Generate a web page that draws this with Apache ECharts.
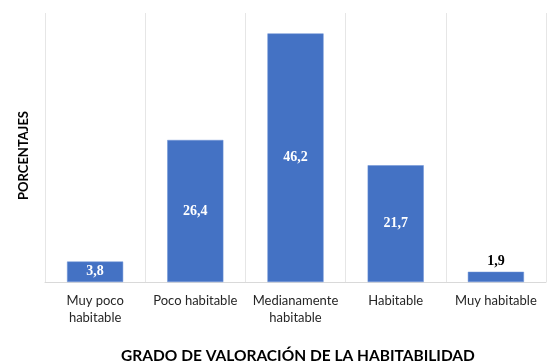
<!DOCTYPE html>
<html><head><meta charset="utf-8">
<script src="https://cdn.jsdelivr.net/npm/echarts@6/dist/echarts.min.js"></script>
<style>html,body{margin:0;padding:0;background:#fff}#c{width:550px;height:364px}</style>
</head><body><div id="c"></div>
<script>
const categories = ["Muy poco\nhabitable", "Poco habitable", "Medianamente\nhabitable", "Habitable", "Muy habitable"];
const values = [3.8, 26.4, 46.2, 21.7, 1.9];
const xTitle = "GRADO DE VALORACIÓN DE LA HABITABILIDAD";
const yTitle = "PORCENTAJES";

const chart = echarts.init(document.getElementById('c'), null, {renderer: 'canvas'});
const fmt = v => String(v).replace('.', ',');
chart.setOption({
  animation: false,
  grid: {left: 45, right: 4, top: 13, bottom: 82, containLabel: false, outerBoundsMode: 'none'},
  xAxis: {
    type: 'category', data: categories,
    axisLine: {show: true, lineStyle: {color: '#d9d9d9', width: 1}},
    axisTick: {show: false},
    splitLine: {show: true, lineStyle: {color: '#e6e6e6', width: 1}},
    axisLabel: {color: '#262626', fontSize: 13, fontFamily: 'Lato', lineHeight: 17, margin: 10, interval: 0},
    name: xTitle, nameLocation: 'middle', nameGap: 66,
    nameTextStyle: {fontSize: 15.5, fontWeight: 'bold', color: '#000', fontFamily: 'Lato', padding: [0, 0, 0, 5]}
  },
  yAxis: {
    type: 'value', min: 0, max: 50,
    axisLine: {show: false}, axisTick: {show: false}, axisLabel: {show: false},
    splitLine: {show: false},
    name: yTitle, nameLocation: 'middle', nameGap: 15, nameRotate: 90,
    nameTextStyle: {fontSize: 13, fontWeight: 'bold', color: '#000', fontFamily: 'Lato', padding: [0, 16, 0, 0]}
  },
  series: [{
    type: 'bar', barCategoryGap: '44%',
    itemStyle: {color: '#4472C4', borderColor: '#6d93d6', borderWidth: 0.5},
    data: values.map((v, i) => ({
      value: v,
      label: v < 3 ? {position: 'top', color: '#000', distance: 3} : {position: 'inside', color: '#fff'}
    })),
    label: {show: true, formatter: p => fmt(p.value), fontFamily: 'Liberation Serif', fontWeight: 'bold', fontSize: 14}
  }]
});
</script></body></html>
